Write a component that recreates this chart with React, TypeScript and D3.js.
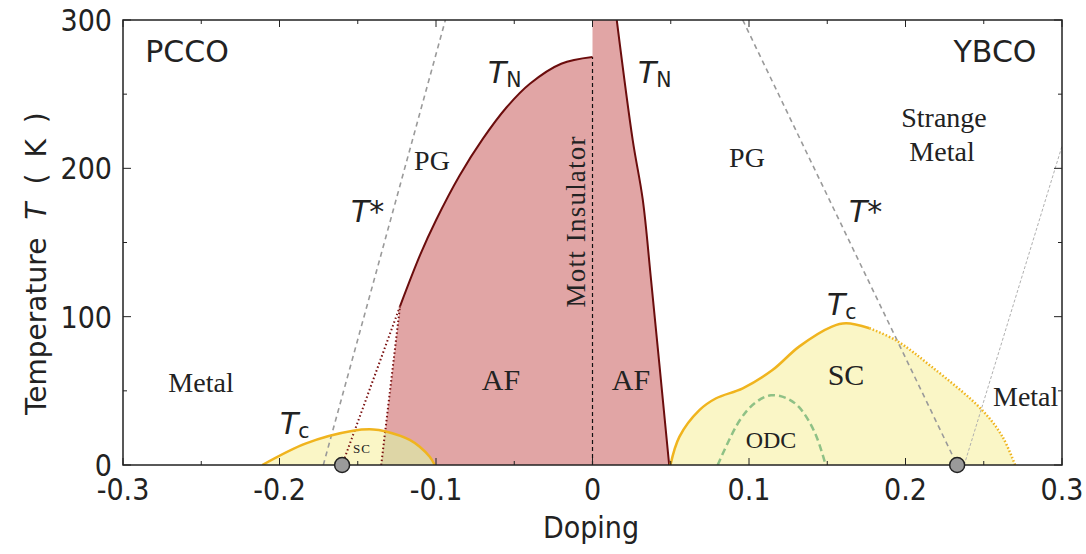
import React from "react";
import * as d3 from "d3";

const W = 1086, H = 554;
const M = { left: 123, right: 1062, top: 20, bottom: 465 };

const xTicksMajor = [-0.3, -0.2, -0.1, 0, 0.1, 0.2, 0.3];
const xTickLabels = ["-0.3", "-0.2", "-0.1", "0", "0.1", "0.2", "0.3"];
const xTicksMinor = [-0.25, -0.15, -0.05, 0.05, 0.15, 0.25];
const yTicksMajor = [0, 100, 200, 300];
const yTicksMinor = [50, 150, 250];

// PCCO Néel line (solid)
const pccoTN: [number, number][] = [
  [-0.123, 107], [-0.11, 142], [-0.1, 165], [-0.085, 195], [-0.07, 220],
  [-0.055, 241], [-0.04, 257], [-0.02, 270.5], [0, 275],
];
// PCCO AF dotted edge (fill boundary) and dotted line to QCP
const pccoAFEdge: [number, number][] = [[-0.135, 0], [-0.123, 107]];
const pccoTNExtrap: [number, number][] = [[-0.123, 107], [-0.16, 0]];
// YBCO Néel line
const ybcoTN: [number, number][] = [
  [0.0155, 300], [0.0257, 219], [0.0321, 179], [0.0374, 125], [0.049, 0],
];
// PCCO SC dome
const pccoSC: [number, number][] = [
  [-0.211, 0], [-0.183, 14.6], [-0.153, 23.1], [-0.14, 24], [-0.1327, 22.8],
  [-0.1168, 17], [-0.1104, 12.3], [-0.104, 5.5], [-0.1008, 0],
];
// YBCO SC dome (solid and dotted parts)
const ybcoSCSolid: [number, number][] = [
  [0.0498, 0], [0.0555, 19], [0.0683, 37], [0.079, 45], [0.096, 51.7], [0.115, 64],
  [0.132, 79.8], [0.153, 93.3], [0.162, 95.5], [0.177, 92.2],
];
const ybcoSCDotted: [number, number][] = [
  [0.177, 92.2], [0.194, 84], [0.217, 66], [0.249, 37], [0.262, 19], [0.27, 0],
];
// ODC dome
const odc: [number, number][] = [
  [0.08, 0], [0.094, 30], [0.104, 42], [0.114, 47], [0.124, 45], [0.132, 39],
  [0.142, 22], [0.149, 0],
];
// Pseudogap T* lines and metal crossover
const pccoTstar: [number, number][] = [[-0.172, 0], [-0.094, 300]];
const ybcoTstar: [number, number][] = [[0.096, 300], [0.233, 0]];
const ybcoMetalLine: [number, number][] = [[0.2375, 0], [0.3, 215]];
const qcps = [-0.16, 0.233];

const x = d3.scaleLinear().domain([-0.3, 0.3]).range([M.left, M.right]);
const y = d3.scaleLinear().domain([0, 300]).range([M.bottom, M.top]);

const lineCR = d3.line<[number, number]>().x(d => x(d[0])).y(d => y(d[1])).curve(d3.curveCatmullRom.alpha(0.5));
const lineLin = d3.line<[number, number]>().x(d => x(d[0])).y(d => y(d[1]));
const areaCR = d3.area<[number, number]>().x(d => x(d[0])).y0(y(0)).y1(d => y(d[1])).curve(d3.curveCatmullRom.alpha(0.5));

const cont = (p: string) => "L" + p.slice(1);

const afPath =
  `M${x(pccoAFEdge[0][0])},${y(pccoAFEdge[0][1])}` +
  cont(lineCR(pccoTN) as string) +
  `L${x(0)},${y(300)}` +
  cont(lineCR(ybcoTN) as string) +
  "Z";

const SANS = "'DejaVu Sans', sans-serif";
const SERIF = "'Liberation Serif', 'DejaVu Serif', serif";
const TXT = "#222";

function TLabel({ x0, yb, sub, size = 30 }: { x0: number; yb: number; sub: string; size?: number }) {
  return (
    <text x={x0} y={yb} fontFamily={SANS} fill={TXT} fontSize={size}>
      <tspan fontStyle="italic">T</tspan>
      <tspan fontSize={size * 0.68} dy={4}>{sub}</tspan>
    </text>
  );
}

export default function App() {
  return (
    <svg width={W} height={H} style={{ position: "absolute", left: 0, top: 0, background: "#fff" }}>
      <defs>
        <clipPath id="plot">
          <rect x={M.left} y={M.top} width={M.right - M.left} height={M.bottom - M.top} />
        </clipPath>
        <clipPath id="afclip">
          <path d={afPath} />
        </clipPath>
      </defs>

      <g clipPath="url(#plot)">
        {/* AF fill */}
        <path d={afPath} fill="#e1a5a5" />
        {/* SC domes fill */}
        <path d={areaCR(pccoSC) as string} fill="#faf6c6" />
        <g clipPath="url(#afclip)">
          <path d={areaCR(pccoSC) as string} fill="#ded6a6" />
        </g>
        <path d={areaCR([...ybcoSCSolid, ...ybcoSCDotted.slice(1)]) as string} fill="#faf6c6" />

        {/* T* and metal lines */}
        <path d={lineLin(pccoTstar) as string} fill="none" stroke="#9a9a9a" strokeWidth={1.6} strokeDasharray="5,4" />
        <path d={lineLin(ybcoTstar) as string} fill="none" stroke="#9a9a9a" strokeWidth={1.6} strokeDasharray="5,4" />
        <path d={lineLin(ybcoMetalLine) as string} fill="none" stroke="#b0b0b0" strokeWidth={1} strokeDasharray="3,2" />

        {/* ODC */}
        <path d={lineCR(odc) as string} fill="none" stroke="#8fc186" strokeWidth={2.5} strokeDasharray="7,4" />

        {/* Mott line */}
        <line x1={x(0)} x2={x(0)} y1={y(0)} y2={y(275)} stroke="#111" strokeWidth={1.2} strokeDasharray="4,3" />

        {/* Néel lines */}
        <path d={lineCR(pccoTN) as string} fill="none" stroke="#6b0d0d" strokeWidth={2} />
        <path d={lineCR(ybcoTN) as string} fill="none" stroke="#6b0d0d" strokeWidth={2} />
        <path d={lineLin(pccoAFEdge) as string} fill="none" stroke="#7a1010" strokeWidth={2} strokeDasharray="1.5,2.5" />
        <path d={lineLin(pccoTNExtrap) as string} fill="none" stroke="#7a1010" strokeWidth={2} strokeDasharray="1.5,2.5" />

        {/* Tc strokes */}
        <path d={lineCR(pccoSC) as string} fill="none" stroke="#f0b41e" strokeWidth={2.5} />
        <path d={lineCR(ybcoSCSolid) as string} fill="none" stroke="#f0b41e" strokeWidth={2.5} />
        <path d={lineCR(ybcoSCDotted) as string} fill="none" stroke="#f0b41e" strokeWidth={2.5} strokeDasharray="1.5,2" />

        {/* Region labels */}
        <text x={187} y={62} fontFamily={SANS} fontSize={30} fill={TXT} textAnchor="middle">PCCO</text>
        <text x={995} y={62} fontFamily={SANS} fontSize={30} fill={TXT} textAnchor="middle">YBCO</text>
        <text x={201} y={392} fontFamily={SERIF} fontSize={28} fill={TXT} textAnchor="middle">Metal</text>
        <text x={993} y={406} fontFamily={SERIF} fontSize={28} fill={TXT}>Metal</text>
        <text x={432} y={170} fontFamily={SERIF} fontSize={28} fill={TXT} textAnchor="middle">PG</text>
        <text x={747} y={167} fontFamily={SERIF} fontSize={28} fill={TXT} textAnchor="middle">PG</text>
        <text x={944} y={127} fontFamily={SERIF} fontSize={28} fill={TXT} textAnchor="middle">Strange</text>
        <text x={942} y={161} fontFamily={SERIF} fontSize={28} fill={TXT} textAnchor="middle">Metal</text>
        <text x={501} y={390} fontFamily={SERIF} fontSize={30} fill={TXT} textAnchor="middle">AF</text>
        <text x={631} y={390} fontFamily={SERIF} fontSize={30} fill={TXT} textAnchor="middle">AF</text>
        <text x={846} y={385} fontFamily={SERIF} fontSize={30} fill={TXT} textAnchor="middle">SC</text>
        <text x={771} y={448} fontFamily={SERIF} fontSize={24} fill={TXT} textAnchor="middle">ODC</text>
        <text x={362} y={453} fontFamily={SERIF} fontSize={13} fill={TXT} textAnchor="middle" letterSpacing={1}>SC</text>
        <text transform={`translate(585,222) rotate(-90)`} fontFamily={SERIF} fontSize={27} fill={TXT} textAnchor="middle" textLength={171} lengthAdjust="spacing">Mott Insulator</text>

        <TLabel x0={488} yb={83} sub="N" />
        <TLabel x0={638} yb={83} sub="N" />
        <TLabel x0={280} yb={434} sub="c" />
        <TLabel x0={827} yb={315} sub="c" />
        <text x={351} y={222} fontFamily={SANS} fontSize={30} fill={TXT}><tspan fontStyle="italic">T</tspan>*</text>
        <text x={849} y={222} fontFamily={SANS} fontSize={30} fill={TXT}><tspan fontStyle="italic">T</tspan>*</text>
      </g>

      {/* Frame */}
      <rect x={M.left} y={M.top} width={M.right - M.left} height={M.bottom - M.top} fill="none" stroke="#222" strokeWidth={1.5} />
      {/* Ticks */}
      {xTicksMajor.map(t => (
        <g key={"xM" + t}>
          <line x1={x(t)} x2={x(t)} y1={M.bottom} y2={M.bottom - 7} stroke="#222" strokeWidth={1} />
          <line x1={x(t)} x2={x(t)} y1={M.top} y2={M.top + 7} stroke="#222" strokeWidth={1} />
        </g>
      ))}
      {xTicksMinor.map(t => (
        <g key={"xm" + t}>
          <line x1={x(t)} x2={x(t)} y1={M.bottom} y2={M.bottom - 4} stroke="#222" strokeWidth={1} />
          <line x1={x(t)} x2={x(t)} y1={M.top} y2={M.top + 4} stroke="#222" strokeWidth={1} />
        </g>
      ))}
      {yTicksMajor.map(t => (
        <g key={"yM" + t}>
          <line x1={M.left} x2={M.left + 8} y1={y(t)} y2={y(t)} stroke="#222" strokeWidth={1} />
          <line x1={M.right} x2={M.right - 8} y1={y(t)} y2={y(t)} stroke="#222" strokeWidth={1} />
        </g>
      ))}
      {yTicksMinor.map(t => (
        <g key={"ym" + t}>
          <line x1={M.left} x2={M.left + 4} y1={y(t)} y2={y(t)} stroke="#222" strokeWidth={1} />
          <line x1={M.right} x2={M.right - 4} y1={y(t)} y2={y(t)} stroke="#222" strokeWidth={1} />
        </g>
      ))}

      {/* QCP circles */}
      {qcps.map(q => (
        <circle key={q} cx={x(q)} cy={y(0)} r={7.5} fill="#9a9a9a" stroke="#222" strokeWidth={1.5} />
      ))}

      {/* Tick labels */}
      {xTicksMajor.map((t, i) => (
        <text key={"xl" + t} x={x(t)} y={500} fontFamily={SANS} fontStretch="condensed" fontSize={30} fill={TXT} textAnchor="middle">{xTickLabels[i]}</text>
      ))}
      {yTicksMajor.map(t => (
        <text key={"yl" + t} x={112} y={y(t) + 11} fontFamily={SANS} fontStretch="condensed" fontSize={30} fill={TXT} textAnchor="end">{t}</text>
      ))}
      <text x={591} y={538} fontFamily={SANS} fontStretch="condensed" fontSize={30} fill={TXT} textAnchor="middle">Doping</text>
      {/* Y axis label, rotated */}
      <text transform="translate(46,415) rotate(-90)" x={0} y={0} fontFamily={SANS} fontSize={28} fill={TXT}>
        <tspan>Temperature</tspan>
        <tspan dx={18} fontStyle="italic">T</tspan>
        <tspan dx={18}>(</tspan>
        <tspan dx={16}>K</tspan>
        <tspan dx={16}>)</tspan>
      </text>
    </svg>
  );
}
